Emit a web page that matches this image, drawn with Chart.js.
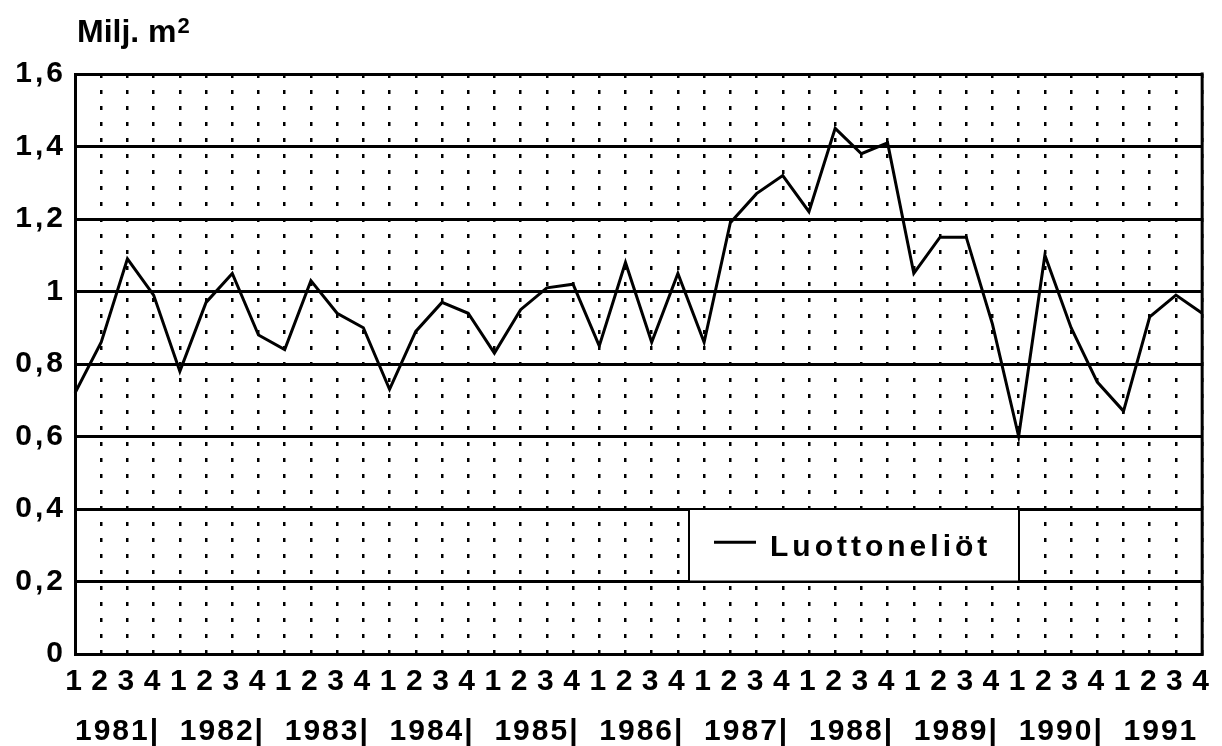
<!DOCTYPE html>
<html>
<head>
<meta charset="utf-8">
<script src="https://cdn.jsdelivr.net/npm/chart.js@4.4.0/dist/chart.umd.min.js"></script>
<style>
  html, body { margin: 0; padding: 0; background: #fff; }
  #wrap { width: 1222px; height: 746px; position: relative; }
</style>
</head>
<body>
<div id="wrap"><canvas id="chart"></canvas></div>
<script>
// Data (quarterly, 1981-1991)
const years = ['1981', '1982', '1983', '1984', '1985', '1986', '1987', '1988', '1989', '1990', '1991'];
const quarters = ['1', '2', '3', '4'];
const yearLabels = ['1981|', '1982|', '1983|', '1984|', '1985|', '1986|', '1987|', '1988|', '1989|', '1990|', '1991'];
const yTickLabels = ['0', '0,2', '0,4', '0,6', '0,8', '1', '1,2', '1,4', '1,6'];
const seriesName = 'Luottoneliöt';
const unitLabel = 'Milj. m';
const unitSup = '2';
const luottoneliot = [
  0.72, 0.86, 1.09, 0.99,
  0.78, 0.97, 1.05, 0.88,
  0.84, 1.03, 0.94, 0.90,
  0.73, 0.89, 0.97, 0.94,
  0.83, 0.95, 1.01, 1.02,
  0.85, 1.08, 0.86, 1.05,
  0.86, 1.19, 1.27, 1.32,
  1.22, 1.45, 1.38, 1.41,
  1.05, 1.15, 1.15, 0.91,
  0.60, 1.10, 0.90, 0.75,
  0.67, 0.93, 0.99, 0.94
];

const labels = years.flatMap(() => quarters);
const FONT = '"Liberation Sans", Arial, Helvetica, sans-serif';

// Wide tracking like the original print
const spacingPlugin = {
  id: 'spacing',
  beforeUpdate(chart) { chart.ctx.letterSpacing = '3px'; },
  beforeDraw(chart) { chart.ctx.letterSpacing = '3px'; }
};

// Frame, unit label, year row and the boxed legend
const decorPlugin = {
  id: 'decor',
  afterDraw(chart) {
    const { ctx, chartArea } = chart;
    const x = chart.scales.x;
    const y = chart.scales.y;
    ctx.save();

    // right border and solid bottom axis
    ctx.strokeStyle = '#000';
    ctx.lineWidth = 3;
    ctx.beginPath();
    ctx.moveTo(chartArea.right, chartArea.top - 1.5);
    ctx.lineTo(chartArea.right, chartArea.bottom + 1.5);
    ctx.stroke();

    // unit label with raised 2
    ctx.fillStyle = '#000';
    ctx.font = 'bold 32px ' + FONT;
    ctx.letterSpacing = '0px';
    ctx.textAlign = 'left';
    ctx.textBaseline = 'alphabetic';
    ctx.fillText(unitLabel, 77, 42);
    const w = ctx.measureText(unitLabel).width;
    ctx.font = 'bold 22px ' + FONT;
    ctx.fillText(unitSup, 77 + w + 1, 33);

    // year row
    ctx.font = 'bold 30px ' + FONT;
    ctx.letterSpacing = '2px';
    yearLabels.forEach((lbl, i) => {
      const px = x.getPixelForValue(i * quarters.length);
      ctx.fillText(lbl, px, 740);
    });

    // legend box between 0,4 and 0,2
    const top = y.getPixelForValue(0.4);
    const bottom = y.getPixelForValue(0.2);
    const left = 689, right = 1019;
    ctx.fillStyle = '#fff';
    ctx.fillRect(left, top, right - left, bottom - top);
    ctx.strokeStyle = '#000';
    ctx.lineWidth = 2;
    ctx.strokeRect(left, top, right - left, bottom - top);

    const mid = (top + bottom) / 2;
    ctx.lineWidth = 3;
    ctx.beginPath();
    ctx.moveTo(714, mid - 3);
    ctx.lineTo(756, mid - 3);
    ctx.stroke();

    ctx.fillStyle = '#000';
    ctx.font = 'bold 30px ' + FONT;
    ctx.letterSpacing = '4px';
    ctx.textBaseline = 'alphabetic';
    ctx.fillText(seriesName, 770, mid + 11);

    ctx.restore();
  }
};

new Chart(document.getElementById('chart'), {
  type: 'line',
  data: {
    labels,
    datasets: [{
      label: seriesName,
      data: luottoneliot,
      borderColor: '#000',
      borderWidth: 3,
      pointRadius: 0,
      tension: 0,
      fill: false
    }]
  },
  options: {
    responsive: true,
    maintainAspectRatio: false,
    animation: false,
    layout: { padding: { top: 74, right: 12, left: 0, bottom: 0 } },
    plugins: {
      legend: { display: false },
      tooltip: { enabled: false }
    },
    scales: {
      x: {
        type: 'category',
        offset: false,
        afterFit: (scale) => { scale.height = 92; },
        grid: {
          color: '#000',
          lineWidth: 2.5,
          drawTicks: false
        },
        // in v4 border.dash styles the grid lines: dotted verticals
        border: { color: '#000', width: 3, dash: [4, 12] },
        ticks: {
          autoSkip: false,
          maxRotation: 0,
          padding: 10,
          color: '#000',
          font: { family: FONT, size: 30, weight: 'bold' }
        }
      },
      y: {
        min: 0,
        max: 1.6,
        afterFit: (scale) => { scale.width = 75; },
        grid: { color: '#000', lineWidth: 3, drawTicks: false },
        border: { color: '#000', width: 3 },
        ticks: {
          stepSize: 0.2,
          padding: 9,
          color: '#000',
          font: { family: FONT, size: 30, weight: 'bold' },
          callback: (v, i) => yTickLabels[i]
        }
      }
    }
  },
  plugins: [spacingPlugin, decorPlugin]
});
</script>
</body>
</html>
